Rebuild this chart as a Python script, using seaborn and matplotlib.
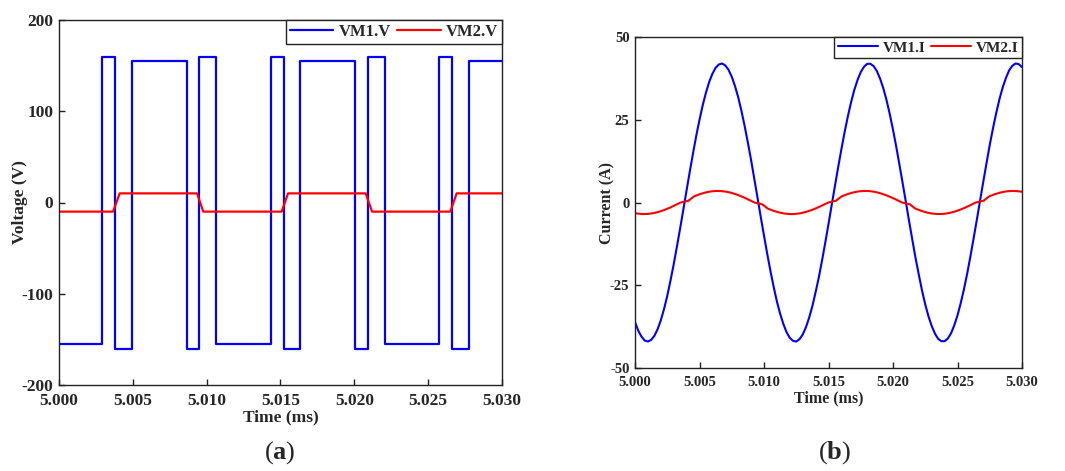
import numpy as np
import pandas as pd
import matplotlib
matplotlib.use("Agg")
import matplotlib.pyplot as plt
import seaborn as sns

# === DATA ===
# (a) voltage: VM1.V is a stepped PWM-like wave (level holds until next time)
vm1_v_t = [5.000, 5.00291, 5.00381, 5.00497, 5.00865, 5.00950, 5.01063, 5.01433,
           5.01521, 5.01634, 5.02005, 5.02093, 5.02205, 5.02573, 5.02661, 5.02777, 5.030]
vm1_v = [-155, 160, -160, 155, -160, 160, -155, 160,
         -160, 155, -160, 160, -155, 160, -160, 155, 155]

vm2_v_t = [5.000, 5.00366, 5.00411, 5.00935, 5.00977, 5.01508, 5.01551,
           5.02077, 5.02120, 5.02650, 5.02693, 5.030]
vm2_v = [-10, -10, 10, 10, -10, -10, 10, 10, -10, -10, 10, 10]

# (b) current: VM1.I read every 0.00025 ms
vm1_i_t = [round(5.000 + 0.00025 * k, 5) for k in range(121)]
vm1_i = [-36.1, -38.7, -40.5, -41.7, -42.0, -41.5, -40.3, -38.3, -35.6, -32.2,
         -28.2, -23.6, -18.7, -13.3, -7.8, -2.1, 3.7, 9.4, 14.9, 20.2,
         25.0, 29.4, 33.2, 36.4, 38.9, 40.7, 41.7, 42.0, 41.4, 40.1,
         38.0, 35.2, 31.8, 27.7, 23.1, 18.1, 12.8, 7.1, 1.4, -4.4,
         -10.0, -15.5, -20.7, -25.5, -29.9, -33.6, -36.7, -39.2, -40.9, -41.8,
         -42.0, -41.3, -39.9, -37.7, -34.8, -31.3, -27.1, -22.6, -17.5, -12.1,
         -6.5, -0.7, 5.0, 10.7, 16.1, 21.3, 26.0, 30.3, 34.0, 37.0,
         39.4, 41.0, 41.9, 41.9, 41.2, 39.7, 37.4, 34.5, 30.9, 26.7,
         22.0, 16.9, 11.4, 5.8, 0.1, -5.7, -11.3, -16.8, -21.8, -26.6,
         -30.8, -34.4, -37.3, -39.6, -41.2, -41.9, -41.9, -41.1, -39.5, -37.1,
         -34.1, -30.4, -26.2, -21.5, -16.3, -10.8, -5.2, 0.6, 6.3, 11.9,
         17.4, 22.4, 27.0, 31.2, 34.7, 37.6, 39.9, 41.3, 42.0, 41.8, 40.9]

vm2_i_t = [5.00000, 5.00055, 5.00098, 5.00141, 5.00183, 5.00226, 5.00269, 5.00311, 5.00354,
           5.00414, 5.00414, 5.00457, 5.00499, 5.00542, 5.00585, 5.00627, 5.00670, 5.00713,
           5.00755, 5.00798, 5.00841, 5.00883, 5.00926,
           5.00986, 5.00986, 5.01029, 5.01071, 5.01114, 5.01157, 5.01199, 5.01242, 5.01285,
           5.01327, 5.01370, 5.01413, 5.01455, 5.01498,
           5.01558, 5.01558, 5.01601, 5.01643, 5.01686, 5.01729, 5.01771, 5.01814, 5.01857,
           5.01899, 5.01942, 5.01985, 5.02027, 5.02070,
           5.02130, 5.02130, 5.02173, 5.02215, 5.02258, 5.02301, 5.02343, 5.02386, 5.02429,
           5.02471, 5.02514, 5.02557, 5.02599, 5.02642,
           5.02702, 5.02702, 5.02745, 5.02787, 5.02830, 5.02873, 5.02915, 5.02958, 5.03000]
vm2_i = [-3.25, -3.49, -3.46, -3.23, -2.83, -2.27, -1.59, -0.82, 0.0,
         0.0, 1.08, 1.83, 2.47, 2.98, 3.33, 3.49, 3.46, 3.23,
         2.83, 2.27, 1.59, 0.82, 0.0,
         0.0, -1.08, -1.83, -2.47, -2.98, -3.33, -3.49, -3.46, -3.23,
         -2.83, -2.27, -1.59, -0.82, 0.0,
         0.0, 1.08, 1.83, 2.47, 2.98, 3.33, 3.49, 3.46, 3.23,
         2.83, 2.27, 1.59, 0.82, 0.0,
         0.0, -1.08, -1.83, -2.47, -2.98, -3.33, -3.49, -3.46, -3.23,
         -2.83, -2.27, -1.59, -0.82, 0.0,
         0.0, 1.08, 1.83, 2.47, 2.98, 3.33, 3.49, 3.46, 3.25]

x_ticks = [5.000, 5.005, 5.010, 5.015, 5.020, 5.025, 5.030]
v_ticks = [-200, -100, 0, 100, 200]
i_ticks = [-50, -25, 0, 25, 50]

# === STYLE ===
sns.set_style("ticks")
plt.rcParams['font.family'] = ['Liberation Serif', 'DejaVu Serif']
plt.rcParams['font.weight'] = 'bold'
plt.rcParams['axes.labelweight'] = 'bold'
plt.rcParams['mathtext.fontset'] = 'custom'
plt.rcParams['mathtext.bf'] = 'Liberation Serif:bold'
plt.rcParams['mathtext.rm'] = 'Liberation Serif'

BLUE = '#0000FF'
RED = '#FF0000'

fig = plt.figure(figsize=(10.65, 4.71), dpi=100)
ax1 = fig.add_axes([59 / 1065, 1 - 385 / 471, 443 / 1065, 365 / 471])
ax2 = fig.add_axes([635 / 1065, 1 - 368 / 471, 387 / 1065, 331 / 471])


def style_axes(ax, yticks, ylabel, tick_fs, label_fs, legend_fs, xlpad, ylpad):
    ax.set_xlim(5.000, 5.030)
    ax.set_ylim(yticks[0], yticks[-1])
    ax.set_xticks(x_ticks)
    ax.set_xticklabels([f"{t:.3f}" for t in x_ticks])
    ax.set_yticks(yticks)
    ax.set_yticklabels([str(v) for v in yticks])
    ax.tick_params(direction='in', length=4, width=1, color='#222222',
                   labelsize=tick_fs, top=False, right=False)
    ax.tick_params(axis='x', pad=5.5)
    ax.tick_params(axis='y', pad=4)
    for lbl in ax.get_xticklabels() + ax.get_yticklabels():
        lbl.set_fontweight('bold')
    for sp in ax.spines.values():
        sp.set_visible(True)
        sp.set_color('#222222')
        sp.set_linewidth(1.0)
    ax.set_xlabel('Time (ms)', fontsize=label_fs, fontweight='bold', labelpad=xlpad)
    ax.set_ylabel(ylabel, fontsize=label_fs, fontweight='bold', labelpad=ylpad)
    leg = ax.legend(loc='upper right', ncol=2, frameon=True, fancybox=False,
                    borderaxespad=0, framealpha=1, handlelength=2.6,
                    handletextpad=0.3, columnspacing=0.4, borderpad=0.25,
                    prop={'size': legend_fs, 'weight': 'bold'})
    leg.get_frame().set_edgecolor('#222222')
    leg.get_frame().set_linewidth(1.0)


# --- Plot (a): Voltage ---
sns.lineplot(x=vm1_v_t, y=vm1_v, ax=ax1, color=BLUE, lw=1.6, label='VM1.V',
             drawstyle='steps-post', sort=False)
sns.lineplot(x=vm2_v_t, y=vm2_v, ax=ax1, color=RED, lw=1.6, label='VM2.V', sort=False)
style_axes(ax1, v_ticks, 'Voltage (V)', 12.5, 12.5, 12, 0.5, -4.5)

# --- Plot (b): Current ---
sns.lineplot(x=vm1_i_t, y=vm1_i, ax=ax2, color=BLUE, lw=1.5, label='VM1.I', sort=False)
sns.lineplot(x=vm2_i_t, y=vm2_i, ax=ax2, color=RED, lw=1.5, label='VM2.I', sort=False)
style_axes(ax2, i_ticks, 'Current (A)', 10.5, 11.5, 11, 1.5, -4)

# captions
fig.text(280 / 1065, 1 - 453 / 471, r'($\mathbf{a}$)', ha='center', va='center',
         fontsize=19, fontweight='normal')
fig.text(835 / 1065, 1 - 453 / 471, r'($\mathbf{b}$)', ha='center', va='center',
         fontsize=19, fontweight='normal')

fig.savefig('out.png', dpi=100)
